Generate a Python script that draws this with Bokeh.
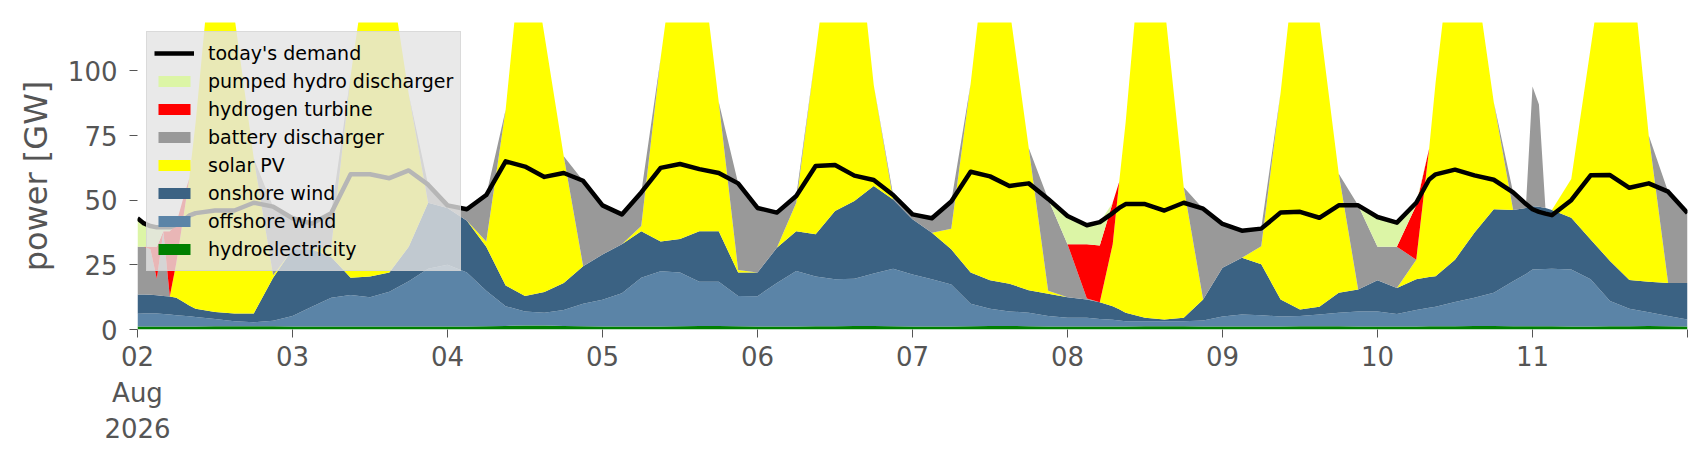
import pandas as pd
from bokeh.plotting import figure
from bokeh.models import ColumnDataSource, Range1d, FixedTicker, Legend, LegendItem
from bokeh.embed import file_html
from bokeh.resources import INLINE

# hours after 2026-08-02 00:00
hours = [0, 1, 2, 3, 4, 5, 6, 7, 8, 9,
         12, 15, 18, 21, 24, 27, 30, 33, 36, 39,
         42, 45, 48, 51, 54, 57, 60, 63, 66, 69,
         72, 75, 78, 81, 84, 87, 90, 93, 96, 99,
         102, 105, 108, 111, 114, 117, 120, 123, 126, 129,
         132, 135, 138, 141, 144, 147, 149, 151, 152, 153, 156,
         159, 162, 165, 168, 171, 174, 177, 180, 183, 186,
         189, 192, 195, 198, 200, 201, 204, 207, 210, 213,
         215, 216, 217, 218, 219, 222, 225, 228, 231, 234,
         237, 240]

hydroelectricity = [1.2, 1.2, 1.2, 1.2, 1.2, 1.2, 1.2, 1.2, 1.2, 1.2,
                    1.3, 1.3, 1.3, 1.3, 1.2, 1.2, 1.2, 1.2, 1.2, 1.2,
                    1.2, 1.2, 1.2, 1.2, 1.3, 1.4, 1.5, 1.5, 1.4, 1.3,
                    1.2, 1.2, 1.2, 1.2, 1.3, 1.4, 1.4, 1.3, 1.2, 1.2,
                    1.2, 1.3, 1.3, 1.4, 1.4, 1.3, 1.2, 1.2, 1.2, 1.3,
                    1.4, 1.4, 1.3, 1.2, 1.2, 1.2, 1.2, 1.2, 1.2, 1.2, 1.3,
                    1.3, 1.3, 1.2, 1.2, 1.2, 1.2, 1.2, 1.3, 1.3, 1.3,
                    1.2, 1.2, 1.2, 1.2, 1.3, 1.3, 1.3, 1.4, 1.4, 1.3,
                    1.3, 1.3, 1.3, 1.3, 1.3, 1.2, 1.2, 1.3, 1.3, 1.4,
                    1.3, 1.2]

offshore_wind = [4.9, 5.0, 5.0, 5.0, 4.8, 4.6, 4.3, 4.1, 3.9, 3.6,
                 2.8, 1.9, 1.5, 2.1, 4.0, 7.6, 11.1, 12.1, 11.3, 13.4,
                 17.5, 22.3, 23.8, 20.8, 13.7, 7.6, 5.5, 5.0, 6.1, 8.7,
                 10.3, 12.8, 18.8, 21.3, 20.7, 17.1, 17.1, 11.7, 11.7, 16.8,
                 21.4, 19.2, 18.1, 18.2, 20.3, 22.2, 20.1, 18.2, 16.2, 8.7,
                 6.6, 5.6, 5.2, 4.0, 3.3, 3.3, 2.9, 2.6, 2.3, 2.0, 1.9,
                 1.9, 1.9, 2.3, 3.8, 4.6, 4.3, 3.8, 3.9, 4.5, 5.2,
                 5.8, 5.8, 4.8, 6.3, 7.1, 7.5, 9.3, 10.9, 12.8, 17.4,
                 20.2, 21.9, 22.0, 22.1, 22.2, 22.0, 18.2, 9.7, 6.7, 5.3,
                 3.9, 2.7]

onshore_wind = [7.4, 7.3, 7.2, 7.0, 7.0, 7.0, 6.8, 5.5, 4.2, 3.2,
                2.7, 3.0, 3.4, 16.6, 25.8, 22.2, 15.7, 6.7, 8.0, 7.4,
                13.3, 25.5, 22.0, 20.0, 17.0, 8.0, 6.0, 8.0, 10.5, 14.5,
                17.5, 19.0, 18.0, 11.5, 13.0, 19.5, 19.5, 9.0, 9.1, 13.6,
                15.4, 16.3, 26.4, 30.1, 33.8, 26.8, 21.3, 18.0, 13.6, 12.0,
                11.0, 10.7, 8.7, 8.6, 8.0, 7.1, 6.4, 5.2, 4.3, 3.3, 1.3,
                0.7, 1.3, 8.1, 18.9, 21.9, 19.7, 6.6, 2.5, 3.0, 7.7,
                8.5, 12.0, 10.0, 11.9, 11.9, 11.8, 16.4, 25.1, 32.3, 27.5,
                25.5, 24.5, 24.2, 23.6, 22.7, 20.0, 15.4, 15.5, 11.1, 11.8,
                12.8, 14.1]

solar_pv = [0, 0, 0, 0, 0, 0, 13.3, 31, 49, 72,
            153, 115, 60, 1, 0, 0, 4, 78, 130, 118,
            59, 0, 0, 0, 2, 68, 147, 99.5, 49, 0,
            0, 0, 2, 71, 125, 112, 50, 1, 0, 0,
            11, 70, 119, 115, 39, 0, 0, 0, 8, 73,
            141, 107, 55, 1.2, 0, 0, 0, 24, 49.2, 73.5, 160,
            122, 50.5, 0, 0, 0, 7, 80, 152, 111, 46,
            0, 0, 0, 7.6, 49.7, 75, 133, 103, 41.5, 0,
            0, 0, 0, 0, 0, 15, 74, 133, 131, 56.5,
            0, 0]

battery_discharger = [18.5, 18.5, 17.6, 6.3, 25, 0, 0, 0, 0, 0,
                      0, 0, 0, 26.5, 12, 10, 13, 0, 0, 0,
                      0, 7, 1, 4.5, 18, 0, 0, 0, 0, 33,
                      19, 11.5, 13, 0, 0, 0, 0, 33.5, 25, 13.6,
                      2.6, 0, 0, 0, 0, 1.7, 1.9, 5.6, 10.5, 0,
                      0, 0, 0, 35.5, 20.5, 0.4, 0, 0, 0, 0, 0,
                      0, 0, 35.1, 16.9, 10.5, 7, 0, 0, 0, 0,
                      32.5, 13, 16, 0, 0, 0, 0, 0, 0, 6.8,
                      1.5, 46.3, 39.5, 0, 0, 0, 0, 0, 0, 0,
                      35.3, 27]

hydrogen_turbine = [0, 0, 1, 12.5, 0, 25.2, 15.4, 8.2, 0, 0,
                    0, 0, 0, 0, 0, 0, 0, 0, 0, 0,
                    0, 0, 0, 0, 0, 0, 0, 0, 0, 0,
                    0, 0, 0, 0, 0, 0, 0, 0, 0, 0,
                    0, 0, 0, 0, 0, 0, 0, 0, 0, 0,
                    0, 0, 0, 0, 0, 21, 22, 16, 0, 0, 0,
                    0, 0, 0, 0, 0, 0, 0, 0, 0, 0,
                    0, 0, 0, 21, 0, 0, 0, 0, 0, 0,
                    0, 0, 0, 0, 0, 0, 0, 0, 0, 0,
                    0, 0]

pumped_hydro_discharger = [11, 9, 8, 7.5, 1.5, 1.5, 0, 0, 0, 0,
                           0, 0, 0, 0, 0, 0, 0, 0, 0, 0,
                           0, 0, 0, 0, 0, 0, 0, 0, 0, 0,
                           0, 0, 0, 0, 0, 0, 0, 0, 0, 0,
                           0, 0, 0, 0, 0, 0, 0, 0, 0, 0,
                           0, 0, 0, 0, 10.9, 7.3, 9, 0, 0, 0, 0,
                           0, 0, 0, 0, 0, 0, 0, 0, 0, 0,
                           0, 11.5, 9.3, 1.0, 0, 0, 0, 0, 0, 0,
                           0, 0, 0, 0, 0, 0, 0, 0, 0, 0,
                           0, 0]

todays_demand = [43, 41, 40, 39.5, 39.5, 39.5, 40.5, 42, 44, 45,
                 46, 46, 49, 47.5, 43, 41, 45, 60, 60, 58.5,
                 61.5, 56, 48, 46.5, 52, 65, 63, 59, 60.5, 57.5,
                 48, 44.5, 53, 62.5, 64, 62, 60.5, 56.5, 47, 45.2,
                 51.6, 63.2, 63.6, 59.5, 57.8, 52, 44.5, 43, 49.5, 61,
                 59.2, 55.5, 56.5, 50.5, 43.9, 40.3, 41.5, 45, 47, 48.5, 48.5,
                 46, 49, 46.7, 40.8, 38.2, 39, 45.2, 45.5, 43.2, 48,
                 48, 43.5, 41.3, 49, 58, 60, 61.8, 59.6, 57.9, 53,
                 48.5, 46.5, 45.5, 44.8, 44.2, 50, 59.6, 59.7, 54.8, 56.5,
                 53.3, 45]

series_labels = ["hydroelectricity", "offshore wind", "onshore wind", "solar PV",
                 "battery discharger", "hydrogen turbine", "pumped hydro discharger"]
series_colors = ["#008000", "#5b84a7", "#3b6283", "#ffff00", "#999999", "#ff0000", "#dcf5a6"]
day_labels = ["02\nAug\n2026", "03", "04", "05", "06", "07", "08", "09", "10", "11", ""]

start = pd.Timestamp("2026-08-02 00:00")
x = [start + pd.Timedelta(hours=h) for h in hours]
cols = ["hydro", "offshore", "onshore", "solar", "battery", "hydrogen", "pumped"]
source = ColumnDataSource(dict(
    x=x, hydro=hydroelectricity, offshore=offshore_wind, onshore=onshore_wind,
    solar=solar_pv, battery=battery_discharger, hydrogen=hydrogen_turbine,
    pumped=pumped_hydro_discharger, demand=todays_demand))

end = start + pd.Timedelta(days=10)
p = figure(width=1699, height=452, x_axis_type="datetime",
           x_range=Range1d(start, end), y_range=Range1d(0, 118.7),
           output_backend="svg", toolbar_location=None,
           min_border_left=137, min_border_right=12, min_border_top=22, min_border_bottom=123)

areas = p.varea_stack(cols, x="x", color=series_colors, source=source)
demand_line = p.line("x", "demand", source=source, line_color="black", line_width=4.5, line_join="round")

items = [LegendItem(label="today's demand", renderers=[demand_line])]
for i in range(len(cols) - 1, -1, -1):
    items.append(LegendItem(label=series_labels[i], renderers=[areas[i]]))

legend = Legend(items=items, location="top_left", margin=9, padding=7, spacing=0,
                label_height=28, glyph_height=14, glyph_width=40, label_standoff=14,
                label_text_font="DejaVu Sans", label_text_font_size="19px",
                label_text_color="black",
                background_fill_color="#e3e3e3", background_fill_alpha=0.8,
                border_line_color="#cccccc", border_line_width=1)
p.add_layout(legend)

tick_ms = [float((start + pd.Timedelta(days=d)).value // 10**6) for d in range(11)]
p.xaxis.ticker = FixedTicker(ticks=tick_ms)
p.xaxis.major_label_overrides = {t: lab for t, lab in zip(tick_ms, day_labels)}
p.yaxis.ticker = FixedTicker(ticks=[0, 25, 50, 75, 100])

for ax in (p.xaxis[0], p.yaxis[0]):
    ax.axis_line_color = None
    ax.major_tick_line_color = "#555555"
    ax.major_tick_in = 0
    ax.major_tick_out = 8
    ax.minor_tick_line_color = None
    ax.major_label_text_font = "DejaVu Sans"
    ax.major_label_text_font_size = "26px"
    ax.major_label_text_color = "#555555"

p.yaxis.major_label_standoff = 12
p.xaxis.major_label_standoff = 4
p.yaxis.axis_label = "power [GW]"
p.yaxis.axis_label_text_font = "DejaVu Sans"
p.yaxis.axis_label_text_font_size = "32px"
p.yaxis.axis_label_text_font_style = "normal"
p.yaxis.axis_label_text_color = "#555555"
p.yaxis.axis_label_standoff = 10

p.xgrid.visible = False
p.ygrid.visible = False
p.outline_line_color = None
p.background_fill_color = "white"

open("out.html", "w").write(file_html(p, INLINE))
